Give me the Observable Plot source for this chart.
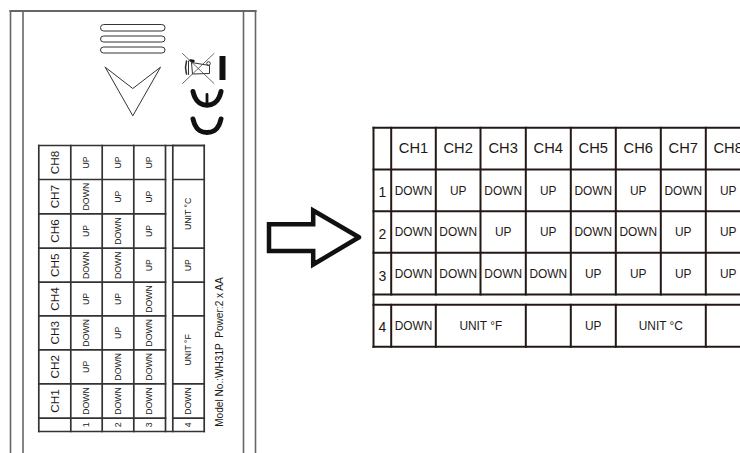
<!DOCTYPE html>
<html><head><meta charset="utf-8">
<script src="https://cdn.jsdelivr.net/npm/d3@7"></script>
<script src="https://cdn.jsdelivr.net/npm/@observablehq/plot@0.6"></script>
<style>html,body{margin:0;padding:0;background:#fff}svg{display:block}</style>
</head><body><div id="c"></div><script>
const channels = ["CH1","CH2","CH3","CH4","CH5","CH6","CH7","CH8"];
const rowNames = ["1","2","3"];
const row1 = ["DOWN","UP","DOWN","UP","DOWN","UP","DOWN","UP"];
const row2 = ["DOWN","DOWN","UP","UP","DOWN","DOWN","UP","UP"];
const row3 = ["DOWN","DOWN","DOWN","DOWN","UP","UP","UP","UP"];
const row4 = [{label:"DOWN",from:0,to:1},{label:"UNIT °F",from:1,to:3},{label:"",from:3,to:4},{label:"UP",from:4,to:5},{label:"UNIT °C",from:5,to:7},{label:"",from:7,to:8}];
const modelText = "Model No.:WH31P  Power:2 x AA";

// sheet-coordinate grids of the two tables
const rColX = [390.7,435.3,480,525.3,570.3,615.3,660.3,705.3,750];
const rX0 = 373;
const rRowY = [127.3,169,210.7,252.3,294,304.3,346.3];
const lColX = [38.3,70.3,101.7,133.3,165,172.3,203.7];
const lRowY = [417.7,383.3,349.3,315.3,281.7,247.7,213.3,179,145];
const lY0 = 431;

const rows = [row1,row2,row3];
const ink = "#231815", grey = "#666";
const segs = [], texts = [];
function seg(x1,y1,x2,y2,sw=2,c=ink){segs.push({x1,y1,x2,y2,sw,c});}
function txt(x,y,t,size,rot=0){texts.push({x,y,t,size,rot});}
const mid=(a,b)=>(a+b)/2;

// right table
rRowY.forEach(y=>seg(rX0,y,750,y));
seg(rX0,rRowY[0],rX0,rRowY[6]);
seg(rColX[0],rRowY[0],rColX[0],rRowY[4]);
rColX.slice(1).forEach(x=>seg(x,rRowY[0],x,rRowY[4]));
seg(rColX[0],rRowY[5],rColX[0],rRowY[6]);
row4.forEach(c=>seg(rColX[c.to],rRowY[5],rColX[c.to],rRowY[6]));
channels.forEach((c,i)=>txt(mid(rColX[i],rColX[i+1]),mid(rRowY[0],rRowY[1]),c,14.7));
rows.forEach((r,j)=>{
  txt(mid(rX0,rColX[0]),mid(rRowY[j+1],rRowY[j+2])+2.5,rowNames[j],14);
  r.forEach((v,i)=>txt(mid(rColX[i],rColX[i+1]),mid(rRowY[j+1],rRowY[j+2])+0.5,v,11.9));
});
txt(mid(rX0,rColX[0]),mid(rRowY[5],rRowY[6])+1.5,"4",14);
row4.forEach(c=>txt(mid(rColX[c.from],rColX[c.to]),mid(rRowY[5],rRowY[6])+0.7,c.label,11.9));

// left table (rotated)
const lw = 1.7, lc = "#333";
seg(lColX[0],lY0,lColX[6],lY0,lw,lc); seg(lColX[0],lRowY[8],lColX[6],lRowY[8],lw,lc);
seg(lColX[0],lRowY[0],lColX[4],lRowY[0],lw,lc);
seg(lColX[5],lRowY[0],lColX[6],lRowY[0],lw,lc);
lRowY.slice(1,8).forEach(y=>seg(lColX[0],y,lColX[4],y,lw,lc));
lColX.forEach(x=>seg(x,lRowY[8],x,lY0,lw,lc));
row4.forEach(c=>seg(lColX[5],lRowY[c.to],lColX[6],lRowY[c.to],lw,lc));
channels.forEach((c,i)=>txt(mid(lColX[0],lColX[1]),mid(lRowY[i],lRowY[i+1]),c,11.7,-90));
rows.forEach((r,j)=>{
  txt(mid(lColX[j+1],lColX[j+2]),mid(lY0,lRowY[0]),rowNames[j],8.7,-90);
  r.forEach((v,i)=>txt(mid(lColX[j+1],lColX[j+2]),mid(lRowY[i],lRowY[i+1]),v,8.75,-90));
});
txt(mid(lColX[5],lColX[6]),mid(lY0,lRowY[0]),"4",8.7,-90);
row4.forEach(c=>txt(mid(lColX[5],lColX[6]),mid(lRowY[c.from],lRowY[c.to]),c.label,8.75,-90));
txt(219.5,351.5,modelText,10.1,-90);

// housing
seg(10,10.5,255,10.5,2.2,"#666");
[10,22.5,243,255].forEach(x=>seg(x,10.5,x,453,1.6,grey));

const vents = [[100.5,165,24.5,31],[100.5,165,36,42],[100.5,165,47,53]].map(([x1,x2,y1,y2])=>({x1,x2,y1,y2}));
const chevron = [[104.7,66.7],[132.3,88],[160,66.7],[132.3,115.3],[104.7,66.7]];
const arrow = [[358.5,236.8],[312.7,210],[312.7,223.7],[268.5,223.7],[268.5,250.4],[312.7,250.4],[312.7,264],[358.5,236.8]];
const markC = [[192.5,91],[194.5,97],[199,102.5],[206.5,104.7],[214,102.5],[218.5,97],[220.5,91]];
const markE = [[192.5,118.5],[194.5,124.5],[199,130],[206.5,132],[214,130],[218.5,124.5],[220.5,118.5]];
const bar = {x1:219.5,x2:225.5,y1:56,y2:80};
const binBody = [[191,62],[209,65],[209,73],[192,73.5],[191,62]];

const L = (pts,o)=>Plot.line(pts,{x:d=>d[0],y:d=>d[1],...o});
const plot = Plot.plot({
  width:740,height:453,margin:0,
  x:{domain:[0,740],range:[0,740],axis:null},
  y:{domain:[0,453],range:[0,453],axis:null},
  marks:[
    Plot.link(segs,{x1:"x1",y1:"y1",x2:"x2",y2:"y2",stroke:"c",strokeWidth:"sw",strokeLinecap:"square"}),
    Plot.rect(vents,{x1:"x1",x2:"x2",y1:"y1",y2:"y2",rx:3.2,ry:3.2,fill:"none",stroke:"#333",strokeWidth:1}),
    L(chevron,{stroke:"#333",strokeWidth:1}),
    L(arrow,{stroke:"#111",strokeWidth:4.5,strokeLinejoin:"miter",strokeMiterlimit:8}),
    L(markC,{stroke:"#111",strokeWidth:5,curve:"natural"}),
    L(markE,{stroke:"#111",strokeWidth:5,curve:"natural"}),
    Plot.rect([bar],{x1:"x1",x2:"x2",y1:"y1",y2:"y2",fill:"#111"}),
    L([[206.5,94],[206.5,104]],{stroke:"#111",strokeWidth:2.8}),
    L(binBody,{stroke:"#333",strokeWidth:1}),
    L([[186,60.5],[185,67],[186,73.5]],{stroke:"#333",strokeWidth:1.6}),
    L([[188,60.5],[188,74]],{stroke:"#333",strokeWidth:1}),
    L([[190,60],[193,60.5]],{stroke:"#111",strokeWidth:2.4}),
    Plot.dot([[208,63]],{x:d=>d[0],y:d=>d[1],r:1.8,stroke:"#333",strokeWidth:1}),
    L([[182,53],[213.5,83]],{stroke:"#444",strokeWidth:.8}),
    L([[213.5,53],[182,83]],{stroke:"#444",strokeWidth:.8}),
    Plot.text(texts,{x:"x",y:"y",text:"t",fontSize:"size",rotate:"rot",fill:"#231815",fontFamily:"Liberation Sans, Arial, sans-serif"})
  ]
});
document.getElementById("c").append(plot);
</script></body></html>
